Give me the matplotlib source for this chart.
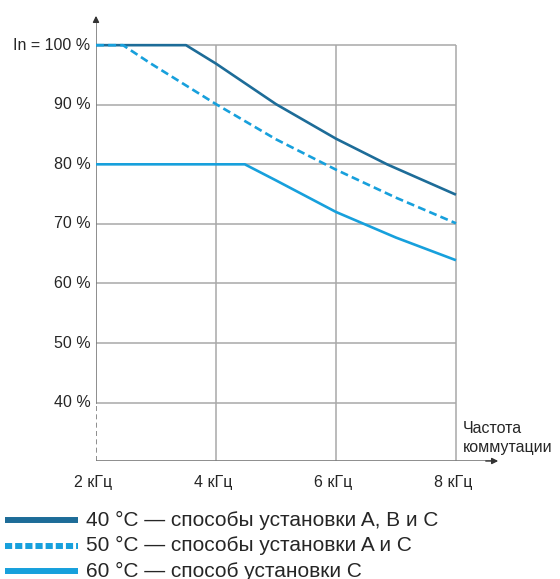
import matplotlib
matplotlib.use("Agg")
import matplotlib.pyplot as plt
from matplotlib.lines import Line2D

plt.rcParams['font.family'] = ['Liberation Sans', 'DejaVu Sans']

# Данные кривых (частота, кГц -> ток, % от In)
f_40 = [2, 3.5, 4, 5, 6, 6.85, 8]
i_40 = [100, 100, 96.9, 90.1, 84.3, 80, 74.9]
f_50 = [2, 2.45, 2.9, 4, 5, 6, 7, 8]
i_50 = [100, 100, 97, 90.1, 84.2, 79.1, 74.4, 70.1]
f_60 = [2, 4.48, 5, 6, 7, 8]
i_60 = [80, 80, 77.3, 72, 67.7, 63.9]

x_ticks = [2, 4, 6, 8]
x_labels = ["2 кГц", "4 кГц", "6 кГц", "8 кГц"]
y_ticks = [40, 50, 60, 70, 80, 90, 100]
y_labels = ["40 %", "50 %", "60 %", "70 %", "80 %", "90 %", "In = 100 %"]

legend_labels = ["40 °C — способы установки A, B и C",
                 "50 °C — способы установки A и C",
                 "60 °C — способ установки C"]

c_dark = "#1d6c98"
c_light = "#17a0dc"
grid_c = "#a8a8a8"
axis_c = "#7a7a7a"
txt_c = "#262626"

W, H = 560, 579
fig = plt.figure(figsize=(W / 100, H / 100), dpi=100)
x0, x1 = 2, 8.75
y0, y1 = 30.2, 105.4
ax = fig.add_axes([96 / W, 1 - 461 / H, 405 / W, 448 / H])
ax.set_xlim(x0, x1)
ax.set_ylim(y0, y1)
ax.axis("off")

# сетка
ax.hlines(y_ticks, 2, 8, color=grid_c, lw=1.1, zorder=1)
ax.vlines([4, 6, 8], y0, 100, color=grid_c, lw=1.1, zorder=1)

# оси
ax.plot([2, 2], [40, y1 - 1.5], color=axis_c, lw=1.2, zorder=2)
ax.plot([2, 2], [y0, 40], color=axis_c, lw=1.2, ls=(0, (3, 2)), zorder=2)
ax.plot([2, x1 - 0.12], [y0, y0], color=axis_c, lw=1.2, zorder=2)
ax.annotate("", xy=(2, y1), xytext=(2, y1 - 2),
            arrowprops=dict(arrowstyle="-|>", color="#333333", lw=1, mutation_scale=9))
ax.annotate("", xy=(x1, y0), xytext=(x1 - 0.3, y0),
            arrowprops=dict(arrowstyle="-|>", color="#333333", lw=1, mutation_scale=9))

# кривые
ax.plot(f_40, i_40, color=c_dark, lw=1.9, zorder=3, solid_capstyle="butt")
ax.plot(f_50, i_50, color=c_light, lw=1.9, ls=(0, (3, 1.6)), zorder=3)
ax.plot(f_60, i_60, color=c_light, lw=1.9, zorder=3, solid_capstyle="butt")

# подписи
for y, lab in zip(y_ticks, y_labels):
    ax.text(1.91, y, lab, ha="right", va="center", fontsize=11.5, color=txt_c)
for x, lab in zip(x_ticks, x_labels):
    ax.text(x - 0.05, y0 - 3.6, lab, ha="center", va="center", fontsize=11.5, color=txt_c)
ax.text(8.11, 35.6, "Частота", ha="left", va="center", fontsize=11.5, color=txt_c)
ax.text(8.11, 32.4, "коммутации", ha="left", va="center", fontsize=11.5, color=txt_c)

# легенда
styles = [dict(color=c_dark, ls="-"),
          dict(color=c_light, ls=(0, (1.2, 0.5))),
          dict(color=c_light, ls="-")]
for k, (lab, st) in enumerate(zip(legend_labels, styles)):
    yy = 1 - (520 + k * 25.5) / H
    fig.add_artist(Line2D([5 / W, 78 / W], [yy, yy], lw=4.3, transform=fig.transFigure,
                          solid_capstyle="butt", dash_capstyle="butt", **st))
    fig.text(86 / W, yy, lab, ha="left", va="center", fontsize=15, color=txt_c)

fig.savefig("out.png", dpi=100)
